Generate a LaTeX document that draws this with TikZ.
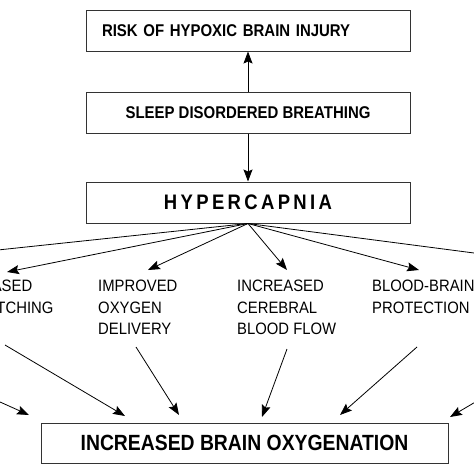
\documentclass[tikz,border=0pt]{standalone}
\usepackage{fontspec}
\newfontfamily\boxfont[FakeStretch=0.88]{Liberation Sans}
\newfontfamily\widefont[FakeStretch=0.88, LetterSpace=16]{Liberation Sans}
\newfontfamily\lblfont[FakeStretch=0.9]{Liberation Sans}
\usetikzlibrary{positioning, arrows.meta}

\begin{document}
\begin{tikzpicture}[x=1pt, y=-1pt,
    box/.style={draw=black!80, line width=1pt, minimum width=324pt, minimum height=41pt, inner sep=0pt,
        font=\boxfont\bfseries\fontsize{17}{20}\selectfont},
    lbl/.style={anchor=north west, inner sep=0pt, align=left, font=\lblfont\fontsize{16.5}{21.5}\selectfont},
    arr/.style={line width=0.8pt, -{Stealth[length=12pt, width=9pt, inset=2pt]}}]
    \useasboundingbox (0,0) rectangle (474,474);
    \clip (0,0) rectangle (474,474);
    % boxes
    \node[box, align=left, text width=292pt, inner xsep=16pt] (risk) at (248,30.5) {RISK OF HYPOXIC BRAIN INJURY};
    \node[box] (sdb) at (248,112.5) {SLEEP DISORDERED BREATHING};
    \node[box, font=\widefont\bfseries\fontsize{21}{24}\selectfont] (hyp) at (248,202.5) {HYPERCAPNIA};
    \node[box, minimum width=407pt, minimum height=40pt, font=\boxfont\bfseries\fontsize{22}{26}\selectfont] (ibo) at (244.5,443) {INCREASED BRAIN OXYGENATION};
    % effects of hypercapnia
    \node[lbl] (vq) at (-54.6,280) {INCREASED\\V/Q MATCHING};
    \node[lbl] (iod) at (98,280) {IMPROVED\\OXYGEN\\DELIVERY};
    \node[lbl] (icbf) at (237,280) {INCREASED\\CEREBRAL\\BLOOD FLOW};
    \node[lbl] (bbp) at (372,280) {BLOOD-BRAIN\\PROTECTION};
    % arrow ends
    \foreach \n/\x/\y in {
        t0/-40/254, t1/7/272, t2/148/270, t3/287/270, t4/419/270, t5/520/259,
        s0/-20/393, h0/29/415, s1/5/345, h1/125/416, s2/136/347, h2/179/415,
        s3/287/349, h3/262/417, s4/417/347, h4/340/415, s5/494/391, h5/450/417}
        \coordinate (\n) at (\x,\y);
    \draw[arr] (sdb) -- (risk);
    \draw[arr] (sdb) -- (hyp);
    \foreach \a/\b in {hyp.south/t0, hyp.south/t1, hyp.south/t2, hyp.south/t3, hyp.south/t4, hyp.south/t5,
        s0/h0, s1/h1, s2/h2, s3/h3, s4/h4, s5/h5}
        \draw[arr] (\a) -- (\b);
\end{tikzpicture}
\end{document}
